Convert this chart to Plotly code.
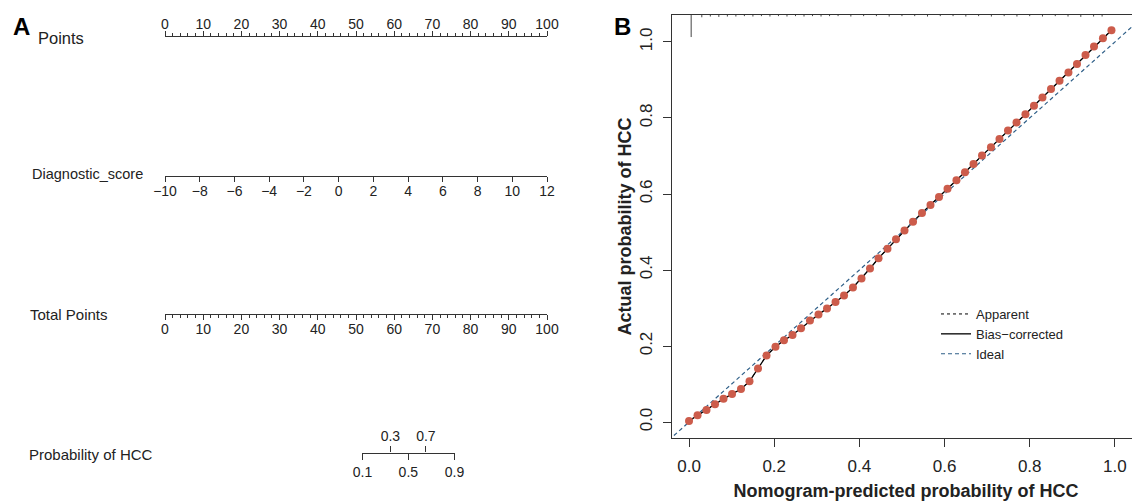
import plotly.graph_objects as go

# ---------------- panel A : nomogram scales ----------------
row_names = ['Points', 'Diagnostic_score', 'Total Points', 'Probability of HCC']
points_ticks = [0, 10, 20, 30, 40, 50, 60, 70, 80, 90, 100]
score_ticks = [-10, -8, -6, -4, -2, 0, 2, 4, 6, 8, 10, 12]
total_ticks = [0, 10, 20, 30, 40, 50, 60, 70, 80, 90, 100]
# probability scale: tick labels and the total points where they sit
prob_low_labels = ['0.1', '0.5', '0.9']
prob_low_points = [51.7, 63.7, 75.8]
prob_high_labels = ['0.3', '0.7']
prob_high_points = [59.0, 68.3]

# ---------------- panel B : calibration curve ----------------
pred_x = [0.000, 0.020, 0.041, 0.061, 0.081, 0.101, 0.122, 0.142, 0.162, 0.182,
          0.203, 0.223, 0.243, 0.263, 0.284, 0.304, 0.324, 0.344, 0.364, 0.385,
          0.405, 0.425, 0.445, 0.466, 0.486, 0.506, 0.526, 0.547, 0.567, 0.587,
          0.607, 0.628, 0.648, 0.668, 0.688, 0.709, 0.729, 0.749, 0.769, 0.790,
          0.810, 0.830, 0.850, 0.870, 0.891, 0.911, 0.931, 0.951, 0.972, 0.992]
bias_corrected_y = [0.003, 0.018, 0.032, 0.047, 0.061, 0.074, 0.087, 0.107, 0.141, 0.175,
                    0.198, 0.215, 0.229, 0.247, 0.267, 0.283, 0.299, 0.316, 0.333, 0.354,
                    0.378, 0.404, 0.431, 0.456, 0.481, 0.504, 0.527, 0.550, 0.571, 0.592,
                    0.614, 0.636, 0.657, 0.679, 0.701, 0.723, 0.745, 0.767, 0.788, 0.810,
                    0.832, 0.854, 0.876, 0.898, 0.920, 0.942, 0.966, 0.988, 1.010, 1.031]
apparent_y = bias_corrected_y
ideal_x = [-0.06, 1.10]
# spike histogram of predictions along the top border
rug_x = [0.005, 0.03, 0.05, 0.07, 0.09, 0.11, 0.13, 0.15, 0.17, 0.19, 0.21, 0.23,
         0.25, 0.27, 0.29, 0.31, 0.33, 0.35, 0.38, 0.41, 0.44, 0.47, 0.50, 0.53,
         0.56, 0.59, 0.62, 0.65, 0.68, 0.71, 0.74, 0.77, 0.80, 0.83, 0.86, 0.89,
         0.92, 0.95, 0.97]
rug_len = [0.058, 0.006, 0.004, 0.005, 0.004, 0.004, 0.003, 0.004, 0.003, 0.004, 0.003, 0.004,
           0.003, 0.004, 0.003, 0.004, 0.003, 0.003, 0.004, 0.003, 0.003, 0.004, 0.003, 0.003,
           0.004, 0.003, 0.003, 0.004, 0.003, 0.004, 0.003, 0.004, 0.003, 0.004, 0.003, 0.004,
           0.005, 0.004, 0.004]

# page body keeps an 8px margin, so the figure is 8px smaller each way
OFF = 8
W, H = 1140 - OFF, 501 - OFF
FONT = 'Liberation Sans, Arial, sans-serif'
AX = '#333333'


def py(px):
    return (H - (px - OFF)) / H


def px_x(px):
    return (px - OFF) / W


fig = go.Figure()

# ---------- panel B traces ----------
Y_TOP = 1.071
rx, ry = [], []
for x, l in zip(rug_x, rug_len):
    rx += [x, x, None]
    ry += [Y_TOP, Y_TOP - l, None]
fig.add_trace(go.Scatter(x=rx, y=ry, mode='lines', line=dict(color='#444444', width=1),
                         showlegend=False, hoverinfo='skip'))
fig.add_trace(go.Scatter(x=pred_x, y=apparent_y, mode='lines', name='Apparent',
                         line=dict(color='black', width=1, dash='dot')))
fig.add_trace(go.Scatter(x=pred_x, y=bias_corrected_y, mode='lines', name='Bias\u2212corrected',
                         line=dict(color='black', width=1.3)))
fig.add_trace(go.Scatter(x=ideal_x, y=ideal_x, mode='lines', name='Ideal',
                         line=dict(color='#2f5f88', width=1.2, dash='4px,3px')))
fig.add_trace(go.Scatter(x=pred_x, y=bias_corrected_y, mode='markers', showlegend=False,
                         marker=dict(color='#cc5c4b', size=8)))

# ---------- panel A invisible anchors so every scale is drawn ----------
for xa, ya, xs in [('x3', 'y3', points_ticks), ('x4', 'y4', score_ticks),
                   ('x5', 'y5', total_ticks), ('x6', 'y6', prob_low_points),
                   ('x7', 'y6', prob_high_points)]:
    fig.add_trace(go.Scatter(x=[xs[0]], y=[0.5], xaxis=xa, yaxis=ya, mode='markers',
                             marker=dict(opacity=0), showlegend=False, hoverinfo='skip'))

A_DOM = [px_x(165), px_x(547)]
tick_font = dict(family=FONT, size=14, color='#222222')


def row_y(line_px, top=False):
    if top:
        return [py(line_px) - 0.004, py(line_px)]
    return [py(line_px), py(line_px) + 0.004]


hidden_y = dict(visible=False, range=[0, 1], fixedrange=True, automargin=False)

# scale placement along the total points axis
prob_dom = [A_DOM[0] + (A_DOM[1] - A_DOM[0]) * prob_low_points[0] / 100,
            A_DOM[0] + (A_DOM[1] - A_DOM[0]) * prob_low_points[-1] / 100]

nomo_axis = dict(showgrid=False, zeroline=False, automargin=False, showline=True,
                 linecolor=AX, linewidth=1.2, ticks='outside', tickcolor=AX, tickfont=tick_font)
minor_ticks = dict(tickmode='linear', tick0=0, dtick=2, ticks='outside', ticklen=3,
                   tickcolor=AX, showgrid=False)

fig.update_layout(
    template='none',
    width=W, height=H,
    margin=dict(l=0, r=0, t=0, b=0, autoexpand=False),
    paper_bgcolor='white', plot_bgcolor='white',
    font=dict(family=FONT, color='black'),
    showlegend=True,
    legend=dict(x=px_x(936), y=py(299), xanchor='left', yanchor='top',
                font=dict(family=FONT, size=13, color='#222222'),
                bgcolor='rgba(0,0,0,0)', tracegroupgap=0, itemwidth=30),
    # panel B
    xaxis=dict(domain=[px_x(672), 1.0], range=[-0.04, 1.059], showgrid=False, zeroline=False,
               automargin=False,
               showline=True, linecolor=AX, linewidth=1.3, mirror=True,
               ticks='outside', ticklen=8, tickcolor=AX, tickwidth=1.2,
               tickvals=[0, 0.2, 0.4, 0.6, 0.8, 1.0], tickformat='.1f',
               tickfont=dict(family=FONT, size=17, color='#222222'), ticklabelstandoff=4,
               title=dict(text='<b>Nomogram-predicted probability of HCC</b>', standoff=9,
                          font=dict(family=FONT, size=18, color='#222222'))),
    yaxis=dict(domain=[py(438), py(15)], range=[-0.042, 1.071], showgrid=False, zeroline=False,
               automargin=False,
               showline=True, linecolor=AX, linewidth=1.3,
               ticks='outside', ticklen=8, tickcolor=AX, tickwidth=1.2,
               tickvals=[0, 0.2, 0.4, 0.6, 0.8, 1.0], tickformat='.1f', tickangle=-90,
               tickfont=dict(family=FONT, size=17, color='#222222'), ticklabelstandoff=4,
               title=dict(text='<b>Actual probability of HCC</b>', standoff=0,
                          font=dict(family=FONT, size=18, color='#222222'))),
    # Points
    xaxis3=dict(domain=A_DOM, anchor='y3', side='top', range=[points_ticks[0], points_ticks[-1]],
                tickmode='array', tickvals=points_ticks, ticklen=5, ticklabelstandoff=-4,
                minor=minor_ticks, **nomo_axis),
    yaxis3=dict(domain=row_y(37, top=True), anchor='x3', **hidden_y),
    # Diagnostic score
    xaxis4=dict(domain=A_DOM, anchor='y4', side='bottom', range=[score_ticks[0], score_ticks[-1]],
                tickmode='array', tickvals=score_ticks, ticklen=5, ticklabelstandoff=-3,
                **nomo_axis),
    yaxis4=dict(domain=row_y(176), anchor='x4', **hidden_y),
    # Total points
    xaxis5=dict(domain=A_DOM, anchor='y5', side='bottom', range=[total_ticks[0], total_ticks[-1]],
                tickmode='array', tickvals=total_ticks, ticklen=5, ticklabelstandoff=-3,
                minor=minor_ticks, **nomo_axis),
    yaxis5=dict(domain=row_y(314), anchor='x5', **hidden_y),
    # Probability of HCC (two-sided labels)
    xaxis6=dict(domain=prob_dom, anchor='y6', side='bottom',
                range=[prob_low_points[0], prob_low_points[-1]],
                tickmode='array', tickvals=prob_low_points, ticktext=prob_low_labels,
                ticklen=6, ticklabelstandoff=0, **nomo_axis),
    xaxis7=dict(domain=prob_dom, anchor='y6', side='top', overlaying='x6',
                range=[prob_low_points[0], prob_low_points[-1]],
                tickmode='array', tickvals=prob_high_points, ticktext=prob_high_labels,
                showgrid=False, zeroline=False, showline=False, automargin=False,
                ticks='outside', ticklen=6, tickcolor=AX, tickfont=tick_font,
                ticklabelstandoff=-1),
    yaxis6=dict(domain=[py(453), py(453) + 0.0005], anchor='x6', **hidden_y),
)

# row names of the nomogram
row_px = [38, 174, 314, 454]
row_size = [16.5, 14.5, 15, 15]
row_left = [36, 30, 28, 27]
for name, ypx, sz, xl in zip(row_names, row_px, row_size, row_left):
    fig.add_annotation(text=name, x=px_x(xl), y=py(ypx), xref='paper', yref='paper',
                       xanchor='left', yanchor='middle', showarrow=False,
                       font=dict(family=FONT, size=sz, color='#222222'))

# panel letters
for letter, xl, ypx in [('A', 11, 27), ('B', 612, 26)]:
    fig.add_annotation(text=f'<b>{letter}</b>', x=px_x(xl), y=py(ypx), xref='paper', yref='paper',
                       xanchor='left', yanchor='middle', showarrow=False,
                       font=dict(family=FONT, size=24, color='black'))

fig.write_html("out.html")
